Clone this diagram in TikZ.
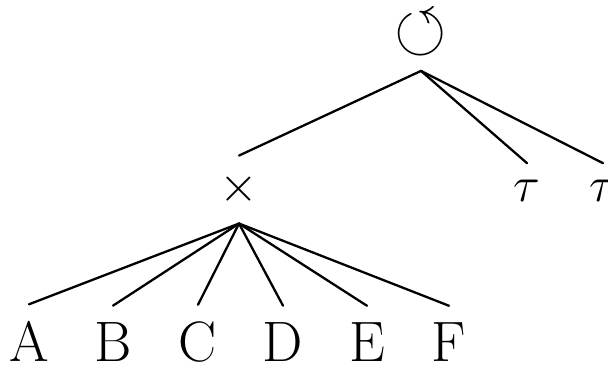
\documentclass[tikz,border=0pt]{standalone}
\usepackage{amssymb}
\usepackage{tikz}
\usetikzlibrary{positioning,calc}

\begin{document}
\begin{tikzpicture}[x=0.5pt,y=0.5pt,font=\fontsize{28.5}{34}\selectfont,
    lbl/.style={anchor=base,inner sep=8.5pt},
    edge/.style={line width=1.15pt,line cap=round}]
  \useasboundingbox (0,0) rectangle (608,368);
  % operator nodes
  \node[lbl,inner sep=7pt] (root) at (421,317) {\scalebox{1.18}{$\circlearrowleft$}};
  \node[lbl] (times) at (239,166) {$\times$};
  \node[lbl] (tau1) at (527,166) {$\tau$};
  \node[lbl] (tau2) at (603,166) {$\tau$};
  \draw[edge] (root.south) -- (times.north);
  \draw[edge] (root.south) -- (tau1.north);
  \draw[edge] (root.south) -- (tau2.north);
  % leaves
  \foreach \nm/\xx in {A/29,B/113,C/198,D/283,E/367,F/449}{
    \node[lbl] (leaf\nm) at (\xx,6) {\nm};
    \draw[edge] (times.south) -- (leaf\nm.north);
  }
\end{tikzpicture}
\end{document}
